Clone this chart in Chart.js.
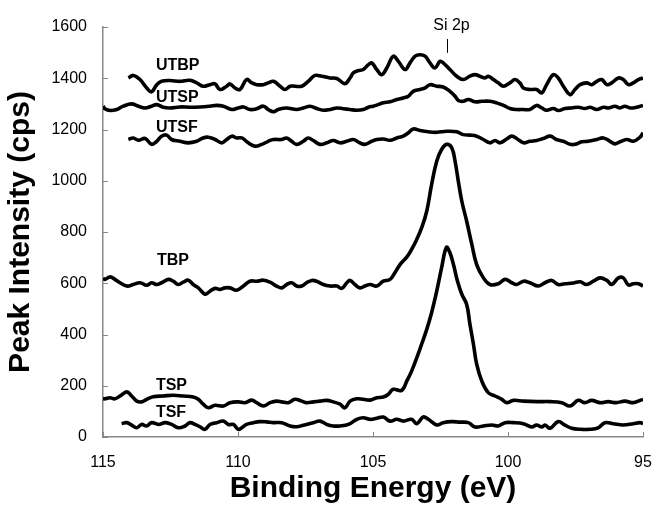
<!DOCTYPE html>
<html>
<head>
<meta charset="utf-8">
<script src="https://cdn.jsdelivr.net/npm/chart.js@4/dist/chart.umd.min.js"></script>
<style>
  html, body { margin: 0; padding: 0; background: #fff; }
  canvas { display: block; }
</style>
</head>
<body>
<canvas id="xps" width="654" height="508"></canvas>
<script>
// binding energy (eV), intensity (cps)
const utbp = [[114.06,1401],[113.88,1411],[113.63,1395],[113.38,1362],[113.20,1347],[113.01,1375],[112.83,1388],[112.52,1391],[112.15,1388],[111.78,1392],[111.53,1382],[111.29,1369],[111.04,1375],[110.85,1378],[110.67,1356],[110.42,1369],[110.30,1378],[110.11,1362],[109.93,1356],[109.68,1395],[109.49,1382],[109.31,1375],[109.06,1375],[108.88,1382],[108.69,1388],[108.44,1369],[108.26,1356],[108.07,1369],[107.89,1369],[107.64,1369],[107.40,1388],[107.15,1411],[106.90,1408],[106.59,1401],[106.34,1399],[106.04,1379],[105.85,1401],[105.73,1421],[105.54,1430],[105.36,1434],[105.17,1453],[105.05,1460],[104.86,1434],[104.68,1414],[104.49,1440],[104.25,1486],[104.06,1466],[103.81,1434],[103.63,1460],[103.44,1486],[103.26,1492],[103.07,1486],[102.89,1460],[102.70,1440],[102.52,1466],[102.40,1460],[102.15,1434],[101.90,1408],[101.66,1395],[101.41,1408],[101.22,1414],[101.04,1408],[100.85,1401],[100.73,1408],[100.54,1395],[100.36,1382],[100.17,1369],[99.93,1382],[99.74,1395],[99.56,1382],[99.43,1362],[99.19,1356],[98.94,1356],[98.75,1343],[98.57,1375],[98.32,1414],[98.14,1401],[97.95,1369],[97.70,1336],[97.52,1356],[97.33,1375],[97.09,1382],[96.90,1375],[96.71,1388],[96.53,1395],[96.34,1375],[96.16,1382],[95.91,1401],[95.73,1395],[95.54,1375],[95.36,1382],[95.17,1395],[95.00,1401]];

const utsp = [[115.00,1291],[114.93,1281],[114.74,1274],[114.49,1278],[114.25,1291],[113.94,1300],[113.69,1291],[113.44,1284],[113.20,1291],[113.01,1297],[112.77,1287],[112.52,1284],[112.15,1288],[111.78,1287],[111.41,1288],[111.04,1291],[110.79,1294],[110.54,1291],[110.23,1278],[109.99,1284],[109.80,1288],[109.56,1278],[109.31,1281],[109.06,1291],[108.88,1278],[108.69,1269],[108.51,1278],[108.20,1284],[107.83,1278],[107.58,1284],[107.33,1291],[107.09,1282],[106.84,1275],[106.59,1278],[106.34,1284],[106.10,1281],[105.85,1278],[105.60,1275],[105.36,1278],[105.17,1287],[104.99,1291],[104.86,1295],[104.62,1304],[104.37,1308],[104.12,1317],[103.88,1323],[103.69,1330],[103.51,1349],[103.26,1356],[103.07,1362],[102.89,1375],[102.64,1369],[102.40,1366],[102.15,1349],[101.96,1330],[101.84,1313],[101.66,1310],[101.47,1317],[101.22,1308],[100.97,1310],[100.67,1310],[100.42,1304],[100.17,1294],[99.93,1282],[99.68,1278],[99.43,1278],[99.19,1278],[98.94,1294],[98.75,1284],[98.57,1275],[98.32,1282],[98.14,1274],[97.89,1282],[97.64,1284],[97.40,1287],[97.15,1282],[96.96,1287],[96.71,1278],[96.47,1287],[96.29,1284],[96.04,1291],[95.85,1284],[95.67,1291],[95.48,1284],[95.23,1287],[95.00,1294]];

const utsf = [[114.06,1161],[113.88,1167],[113.69,1158],[113.44,1165],[113.20,1142],[113.01,1154],[112.83,1174],[112.64,1178],[112.46,1161],[112.15,1154],[111.84,1148],[111.53,1154],[111.34,1165],[111.10,1170],[110.85,1161],[110.60,1148],[110.42,1161],[110.23,1174],[110.05,1167],[109.86,1167],[109.62,1148],[109.37,1135],[109.12,1142],[108.88,1154],[108.69,1161],[108.38,1161],[108.20,1167],[108.01,1154],[107.83,1142],[107.58,1154],[107.40,1167],[107.21,1157],[106.96,1142],[106.71,1148],[106.47,1157],[106.22,1148],[105.97,1154],[105.73,1161],[105.54,1151],[105.30,1142],[105.05,1154],[104.86,1161],[104.62,1163],[104.37,1158],[104.12,1167],[103.88,1174],[103.69,1187],[103.51,1202],[103.26,1196],[102.95,1191],[102.64,1189],[102.27,1193],[101.90,1191],[101.66,1180],[101.41,1178],[101.16,1174],[100.91,1161],[100.67,1148],[100.48,1157],[100.30,1148],[100.05,1163],[99.86,1174],[99.68,1165],[99.43,1148],[99.19,1154],[98.94,1157],[98.69,1165],[98.44,1174],[98.20,1161],[97.95,1154],[97.70,1142],[97.52,1142],[97.27,1152],[97.03,1154],[96.71,1161],[96.47,1167],[96.22,1154],[96.04,1144],[95.85,1152],[95.60,1161],[95.36,1154],[95.11,1170],[95.00,1187]];

const tbp = [[115.00,620],[114.93,615],[114.74,625],[114.56,615],[114.37,602],[114.12,589],[113.88,595],[113.63,602],[113.38,592],[113.20,602],[113.01,595],[112.83,602],[112.58,615],[112.40,608],[112.21,595],[112.03,604],[111.84,612],[111.66,595],[111.47,582],[111.22,557],[111.04,569],[110.85,580],[110.67,576],[110.48,582],[110.30,582],[110.05,573],[109.80,589],[109.56,608],[109.31,608],[109.06,612],[108.81,604],[108.57,589],[108.38,582],[108.20,595],[108.01,602],[107.83,589],[107.64,589],[107.46,602],[107.27,611],[107.09,608],[106.84,595],[106.59,589],[106.34,589],[106.16,580],[105.97,602],[105.85,611],[105.67,595],[105.48,582],[105.30,589],[105.11,595],[104.86,589],[104.62,608],[104.37,615],[104.19,641],[104.00,673],[103.75,702],[103.57,732],[103.38,771],[103.20,816],[103.01,881],[102.83,985],[102.64,1076],[102.46,1122],[102.27,1142],[102.08,1128],[101.96,1076],[101.84,998],[101.71,920],[101.53,842],[101.34,752],[101.16,673],[100.91,621],[100.67,595],[100.36,598],[100.11,615],[99.86,602],[99.68,595],[99.43,608],[99.19,602],[98.88,589],[98.63,602],[98.38,611],[98.14,595],[97.89,598],[97.58,601],[97.33,606],[97.09,595],[96.84,608],[96.59,621],[96.34,611],[96.16,595],[95.91,621],[95.73,621],[95.54,593],[95.36,598],[95.17,598],[95.00,589]];

const tsp = [[115.00,150],[114.93,149],[114.74,153],[114.56,149],[114.37,160],[114.12,176],[113.94,160],[113.75,140],[113.57,137],[113.38,147],[113.14,157],[112.77,160],[112.40,163],[112.03,160],[111.66,156],[111.47,147],[111.29,128],[111.10,114],[110.85,124],[110.54,121],[110.30,134],[109.99,137],[109.74,134],[109.49,144],[109.31,134],[109.06,121],[108.81,134],[108.57,140],[108.38,137],[108.14,134],[107.89,147],[107.64,140],[107.46,134],[107.21,137],[106.96,140],[106.71,143],[106.47,137],[106.22,128],[106.04,114],[105.85,140],[105.60,149],[105.36,147],[105.11,144],[104.86,153],[104.62,156],[104.43,167],[104.25,186],[103.94,182],[103.75,218],[103.57,257],[103.38,309],[103.20,362],[103.01,420],[102.83,485],[102.64,569],[102.46,660],[102.28,740],[102.15,719],[102.02,673],[101.87,608],[101.71,557],[101.53,517],[101.41,440],[101.28,362],[101.16,284],[100.97,218],[100.73,173],[100.48,160],[100.23,147],[100.05,134],[99.80,143],[99.43,140],[98.94,138],[98.44,138],[98.01,134],[97.70,121],[97.40,143],[97.15,134],[96.90,143],[96.59,134],[96.29,138],[95.99,134],[95.67,140],[95.36,134],[95.11,143],[95.00,147]];

const tsf = [[114.31,52],[114.12,56],[113.94,46],[113.75,36],[113.57,49],[113.38,43],[113.20,56],[112.95,49],[112.70,56],[112.46,49],[112.21,36],[111.96,43],[111.78,56],[111.59,49],[111.41,40],[111.22,30],[111.04,49],[110.79,56],[110.54,62],[110.36,49],[110.17,49],[109.99,30],[109.86,36],[109.68,49],[109.43,56],[109.19,60],[108.94,59],[108.69,56],[108.38,56],[108.07,43],[107.83,40],[107.58,46],[107.21,56],[106.96,62],[106.71,49],[106.47,43],[106.22,43],[105.91,49],[105.60,69],[105.36,75],[105.11,69],[104.86,73],[104.62,78],[104.37,62],[104.12,69],[103.88,62],[103.57,69],[103.38,52],[103.14,78],[102.95,69],[102.64,47],[102.40,56],[102.08,60],[101.78,58],[101.47,56],[101.22,39],[100.91,43],[100.60,47],[100.36,43],[100.11,56],[99.80,56],[99.43,52],[99.12,39],[98.94,47],[98.75,39],[98.63,47],[98.44,34],[98.14,60],[97.89,46],[97.64,34],[97.33,30],[96.96,30],[96.66,36],[96.41,56],[96.10,52],[95.73,47],[95.36,52],[95.11,56],[95.00,52]];

// curve names, written next to each trace (energy, cps)
const seriesLabels = [
  ['UTBP', 113.04, 1448],
  ['UTSP', 113.04, 1325],
  ['UTSF', 113.04, 1208],
  ['TBP', 113.0, 687],
  ['TSP', 113.04, 201],
  ['TSF', 113.04, 96]
];
// Si 2p marker: text position and the short line under it
const peakMark = { text: 'Si 2p', energy: 102.27, textCounts: 1606, lineTop: 1553, lineBottom: 1499 };

const FONT = "'Liberation Sans', Arial, sans-serif";

const toXY = pts => pts.map(([x, y]) => ({ x, y }));

const traces = [utbp, utsp, utsf, tbp, tsp, tsf].map(pts => ({
  data: toXY(pts),
  borderColor: '#000',
  borderWidth: 3.6,
  pointRadius: 0,
  tension: 0.4,
  fill: false
}));

// inner tick marks, curve names and the Si 2p marker
const decorations = {
  id: 'decorations',
  afterDraw (chart) {
    const { ctx, chartArea: area, scales: { x, y } } = chart;
    ctx.save();
    ctx.strokeStyle = '#888';
    ctx.lineWidth = 1;
    y.ticks.forEach(t => {
      const py = Math.round(y.getPixelForValue(t.value)) + 0.5;
      ctx.beginPath();
      ctx.moveTo(area.left, py);
      ctx.lineTo(area.left + 5, py);
      ctx.stroke();
    });
    x.ticks.forEach(t => {
      const px = Math.round(x.getPixelForValue(t.value)) + 0.5;
      ctx.beginPath();
      ctx.moveTo(px, area.bottom);
      ctx.lineTo(px, area.bottom - 5);
      ctx.stroke();
    });

    ctx.fillStyle = '#000';
    ctx.font = 'bold 16px ' + FONT;
    ctx.textAlign = 'left';
    ctx.textBaseline = 'middle';
    seriesLabels.forEach(([name, e, c]) => {
      ctx.fillText(name, x.getPixelForValue(e), y.getPixelForValue(c));
    });

    const mx = Math.round(x.getPixelForValue(peakMark.energy)) + 0.5;
    ctx.font = '16px ' + FONT;
    ctx.textAlign = 'center';
    ctx.fillText(peakMark.text, mx + 4, y.getPixelForValue(peakMark.textCounts));
    ctx.strokeStyle = '#000';
    ctx.beginPath();
    ctx.moveTo(mx, y.getPixelForValue(peakMark.lineTop));
    ctx.lineTo(mx, y.getPixelForValue(peakMark.lineBottom));
    ctx.stroke();
    ctx.restore();
  }
};

new Chart(document.getElementById('xps'), {
  type: 'line',
  data: { datasets: traces },
  options: {
    responsive: false,
    animation: false,
    devicePixelRatio: 1,
    layout: { padding: { top: 27, right: 11, left: 0, bottom: 0 } },
    plugins: { legend: { display: false }, tooltip: { enabled: false } },
    scales: {
      x: {
        type: 'linear',
        reverse: true,
        min: 95,
        max: 115,
        afterFit (scale) {
          scale.height = 71;
          scale.paddingLeft = 0;
          scale.paddingRight = 0;
        },
        grid: { display: true, drawOnChartArea: false, drawTicks: false },
        border: { display: true, color: '#888', width: 1.5 },
        ticks: { stepSize: 5, color: '#000', padding: 16, font: { family: FONT, size: 16 } },
        title: {
          display: true,
          text: 'Binding Energy (eV)',
          color: '#000',
          font: { family: FONT, size: 30, weight: 'bold' },
          padding: { top: 1, bottom: 1 }
        }
      },
      y: {
        min: 0,
        max: 1600,
        afterFit (scale) {
          scale.width = 103;
          scale.paddingTop = 0;
          scale.paddingBottom = 0;
        },
        grid: { display: true, drawOnChartArea: false, drawTicks: false },
        border: { display: true, color: '#888', width: 1.5 },
        ticks: {
          stepSize: 200,
          color: '#000',
          padding: 16,
          font: { family: FONT, size: 16 },
          callback: v => String(v)
        },
        title: {
          display: true,
          text: 'Peak Intensity (cps)',
          color: '#000',
          font: { family: FONT, size: 30, weight: 'bold' },
          padding: { top: 3, bottom: 3 }
        }
      }
    }
  },
  plugins: [decorations]
});
</script>
</body>
</html>
